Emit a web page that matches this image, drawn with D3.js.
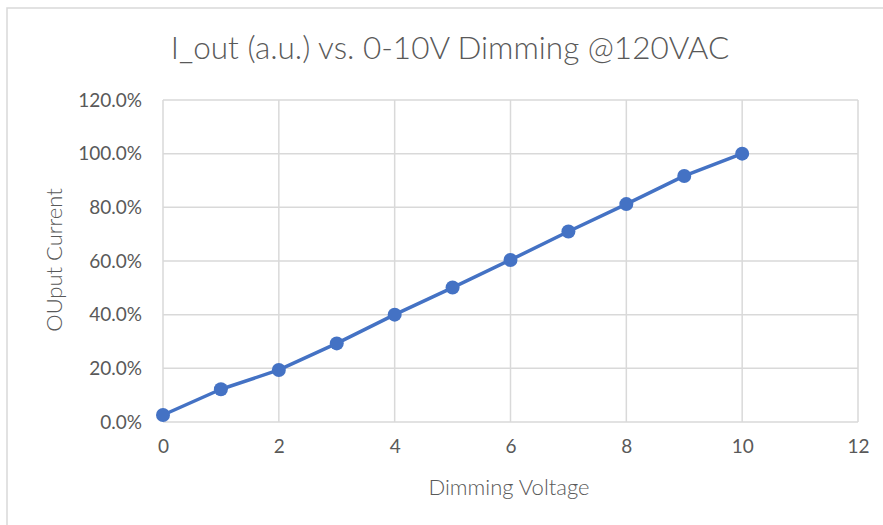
<!DOCTYPE html>
<html>
<head>
<meta charset="utf-8">
<script src="https://cdn.jsdelivr.net/npm/d3@7"></script>
<style>
  body { margin: 0; background: #ffffff; }
  svg { display: block; }
</style>
</head>
<body>
<div id="chart"></div>
<script>
// Data
const voltages = [0, 1, 2, 3, 4, 5, 6, 7, 8, 9, 10];
const outputCurrent = [0.026, 0.122, 0.194, 0.293, 0.400, 0.501, 0.604, 0.710, 0.812, 0.917, 1.000];
const xTicks = [0, 2, 4, 6, 8, 10, 12];
const yTicks = [0, 0.2, 0.4, 0.6, 0.8, 1.0, 1.2];

const titleText = "I_out (a.u.) vs. 0-10V Dimming @120VAC";
const xTitle = "Dimming Voltage";
const yTitle = "OUput Current";

const width = 883;
const height = 525;
const margin = { top: 100, right: 25, bottom: 103, left: 163 };
const textColor = "#595959";
const gridColor = "#d9d9d9";
const lineColor = "#4472C4";
const fontFamily = "Lato, 'Open Sans', sans-serif";

const svg = d3.select("#chart")
    .append("svg")
    .attr("width", width)
    .attr("height", height);

// Chart frame (only top and left edges fall inside the picture)
svg.append("rect")
    .attr("x", 7)
    .attr("y", 8)
    .attr("width", width + 20)
    .attr("height", height + 20)
    .attr("fill", "#ffffff")
    .attr("stroke", gridColor)
    .attr("stroke-width", 1.5);

const x = d3.scaleLinear()
    .domain([0, 12])
    .range([margin.left, width - margin.right]);

const y = d3.scaleLinear()
    .domain([0, 1.2])
    .range([height - margin.bottom, margin.top]);

// Gridlines
const grid = svg.append("g").attr("class", "grid");

grid.selectAll("line.h")
    .data(yTicks)
    .enter()
    .append("line")
    .attr("class", "h")
    .attr("x1", x(0))
    .attr("x2", x(12))
    .attr("y1", d => y(d))
    .attr("y2", d => y(d))
    .attr("stroke", gridColor)
    .attr("stroke-width", 1.5);

grid.selectAll("line.v")
    .data(xTicks)
    .enter()
    .append("line")
    .attr("class", "v")
    .attr("x1", d => x(d))
    .attr("x2", d => x(d))
    .attr("y1", y(0))
    .attr("y2", y(1.2))
    .attr("stroke", gridColor)
    .attr("stroke-width", 1.5);

// Axes (labels only, Excel style)
const xAxis = svg.append("g")
    .attr("transform", `translate(0, ${y(0)})`)
    .call(d3.axisBottom(x).tickValues(xTicks).tickSize(0).tickPadding(18));

const yAxis = svg.append("g")
    .attr("transform", `translate(${x(0)}, 0)`)
    .call(d3.axisLeft(y).tickValues(yTicks).tickSize(0).tickPadding(21)
        .tickFormat(d3.format(".1%")));

[xAxis, yAxis].forEach(a => {
    a.select(".domain").remove();
    a.selectAll("text")
        .attr("fill", textColor)
        .style("font-family", fontFamily)
        .style("font-size", "19px");
});

// Series line
const line = d3.line()
    .x((d, i) => x(voltages[i]))
    .y(d => y(d));

svg.append("path")
    .datum(outputCurrent)
    .attr("fill", "none")
    .attr("stroke", lineColor)
    .attr("stroke-width", 3.5)
    .attr("stroke-linejoin", "round")
    .attr("d", line);

svg.selectAll("circle.pt")
    .data(outputCurrent)
    .enter()
    .append("circle")
    .attr("class", "pt")
    .attr("cx", (d, i) => x(voltages[i]))
    .attr("cy", d => y(d))
    .attr("r", 7)
    .attr("fill", lineColor);

// Title
svg.append("text")
    .attr("x", 450)
    .attr("y", 59)
    .attr("text-anchor", "middle")
    .attr("fill", textColor)
    .style("font-family", fontFamily)
    .style("font-size", "31.5px")
    .style("font-weight", 300)
    .text(titleText);

// Axis titles
svg.append("text")
    .attr("x", 509)
    .attr("y", 495)
    .attr("text-anchor", "middle")
    .attr("fill", textColor)
    .style("font-family", fontFamily)
    .style("font-size", "22px")
    .style("font-weight", 300)
    .text(xTitle);

svg.append("text")
    .attr("transform", `translate(62, 260) rotate(-90)`)
    .attr("text-anchor", "middle")
    .attr("fill", textColor)
    .style("font-family", fontFamily)
    .style("font-size", "22px")
    .style("font-weight", 300)
    .text(yTitle);
</script>
</body>
</html>
